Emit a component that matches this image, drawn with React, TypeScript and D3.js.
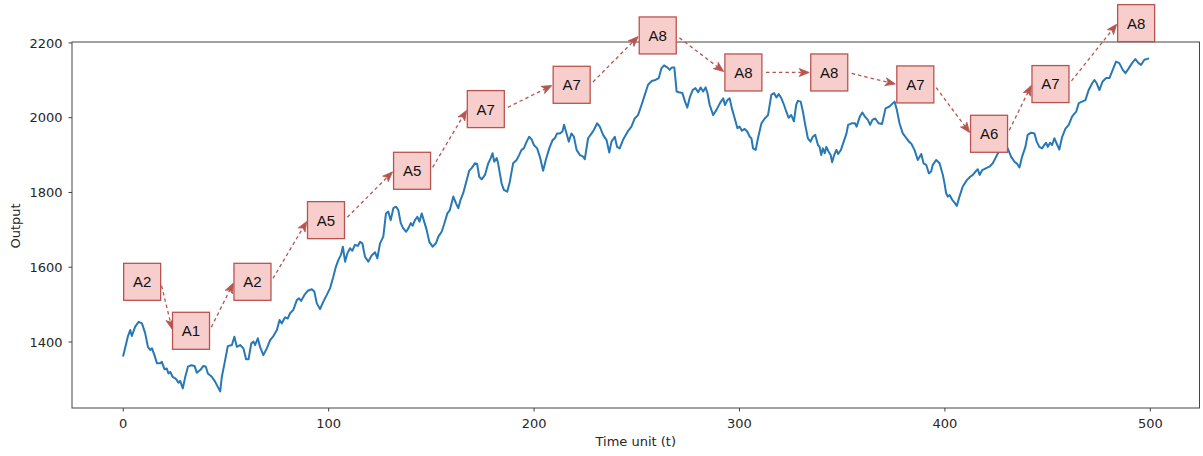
import React from 'react';
import * as d3 from 'd3';

// Time index of each traced sample
const times: number[] = [
  0, 2.3, 3.4, 4.2, 5.8, 7.5, 9.1, 10.7, 12, 13.1, 14, 15.2, 16.4, 18, 18.8, 20.1, 21.2, 22, 22.9, 24,
  25.3, 26.1, 26.9, 27.7, 29, 30.2, 31.5, 33.1, 34.7, 35.8, 37.5, 39, 40.2, 41.2, 43.1, 44.7, 47.2, 48, 49.3, 50.9,
  52.9, 54.1, 55.3, 56.9, 58.5, 59.8, 61, 62.3, 63.4, 64.2, 65.5, 66.6, 68.2, 69.9, 71.5, 73.1, 74.8, 76.1, 77.2, 78.8,
  80.1, 81.2, 82.8, 84.5, 85.6, 86.6, 88.2, 89.8, 91.8, 93, 94.2, 95.8, 97.4, 99.1, 100.7, 102.3, 103.5, 104.7, 106, 106.9,
  108, 109.1, 110.4, 111.5, 112.8, 114.2, 115.3, 116.4, 117.7, 119.3, 121, 122.6, 123.7, 125, 126.6, 127.9, 129, 130.2, 131.5, 132.8,
  133.9, 135.1, 136.3, 137.7, 138.8, 140, 140.9, 142, 143.2, 144.2, 145.3, 146.5, 147.7, 149, 150.6, 152.2, 153.4, 155, 156.1, 157.8,
  159, 160.7, 162, 163.1, 164.2, 165.5, 167.2, 168.4, 169.6, 171.2, 172.3, 173.3, 174.5, 176.1, 177.7, 178.9, 179.8, 180.6, 181.8, 182.5,
  184.2, 185.3, 186.9, 188.2, 189.8, 191.5, 192.7, 193.9, 195, 196.4, 197.6, 198.8, 199.9, 201.5, 202.8, 204.4, 205.7, 207.4, 209, 210.1,
  211.2, 212.6, 213.8, 214.6, 215.8, 216.9, 218.2, 219.4, 220.7, 222.3, 223.9, 224.7, 226.3, 228, 229.1, 230.7, 232, 233.6, 235.3, 236.6,
  237.7, 239.3, 240.4, 241.7, 243.4, 245.8, 247.4, 249, 250.6, 252.3, 253.9, 255.5, 257.2, 259.1, 260.7, 262, 263.3, 265, 266, 267,
  268.3, 269.4, 270.5, 272.2, 273.5, 274.6, 275.9, 277.2, 278.6, 279.9, 281.1, 282.3, 283.5, 284.4, 285.5, 287.2, 288.8, 290.5, 292.1, 292.9,
  294.1, 295.2, 296.3, 297.7, 299, 300.1, 301.2, 302.5, 303.8, 305, 305.8, 306.6, 307.9, 309, 310.7, 312.3, 313.9, 315.5, 316.8, 318,
  319.1, 320.4, 321.7, 322.8, 323.9, 325.2, 326.5, 327.6, 328.4, 329.8, 330.9, 332, 333.3, 334.6, 335.7, 336.9, 338.2, 339, 339.8, 340.6,
  341.5, 342.3, 343.4, 344.4, 345.1, 346.1, 347.2, 348, 349.4, 350.5, 352.1, 352.9, 354.6, 356.2, 357, 358.6, 359.8, 361.1, 362.5, 363.6,
  364.7, 366.1, 367.7, 369.4, 371.1, 373, 374.7, 375.5, 376.6, 377.9, 379.5, 380.8, 382.5, 383.6, 385.2, 386.8, 388.5, 389.6, 390.9, 392.2,
  393.3, 394.1, 395.8, 397.4, 399, 399.8, 400.6, 401.4, 402.3, 403.6, 404.7, 405.8, 407.1, 408.7, 410.7, 412.3, 413.6, 414.9, 416, 416.9,
  418.2, 420.1, 421.7, 423.3, 424.6, 425.8, 426.9, 429, 430.6, 432.2, 433.9, 435, 436.3, 437.6, 439.2, 440.3, 442, 443.6, 444.7, 446,
  447.3, 448.4, 449.3, 450.1, 451.2, 452.2, 453.3, 454.4, 455.7, 457.1, 458.7, 460.3, 461.9, 463.9, 465.2, 466.8, 468.4, 470, 471.7, 472.8,
  473.9, 475.2, 476.8, 478.5, 480.1, 481.7, 483.3, 484.9, 486.6, 487.9, 489.5, 491.1, 492.7, 494.3, 495.5, 497.1, 499,
];

// Output level at each sample
const output: number[] = [
  1363, 1416, 1432, 1416, 1441, 1454, 1450, 1423, 1387, 1379, 1383, 1365, 1343, 1343, 1347, 1327, 1329, 1316, 1320, 1307,
  1303, 1298, 1291, 1296, 1276, 1307, 1334, 1338, 1336, 1318, 1325, 1336, 1334, 1316, 1307, 1294, 1268, 1307, 1343, 1389,
  1392, 1414, 1387, 1392, 1383, 1354, 1354, 1396, 1401, 1392, 1410, 1387, 1365, 1383, 1405, 1416, 1432, 1459, 1450, 1466,
  1463, 1477, 1486, 1512, 1517, 1510, 1526, 1537, 1541, 1535, 1504, 1488, 1508, 1526, 1544, 1575, 1601, 1619, 1633, 1655,
  1615, 1637, 1651, 1644, 1660, 1657, 1668, 1664, 1628, 1615, 1632, 1640, 1624, 1664, 1682, 1744, 1749, 1726, 1758, 1762,
  1753, 1718, 1704, 1695, 1704, 1718, 1711, 1726, 1735, 1722, 1744, 1722, 1700, 1668, 1655, 1664, 1682, 1695, 1713, 1744,
  1753, 1789, 1771, 1758, 1780, 1798, 1833, 1858, 1865, 1878, 1876, 1842, 1835, 1847, 1878, 1892, 1905, 1882, 1892, 1878,
  1824, 1807, 1802, 1829, 1878, 1887, 1900, 1914, 1918, 1936, 1949, 1942, 1927, 1918, 1896, 1858, 1887, 1918, 1940, 1945,
  1958, 1958, 1963, 1981, 1958, 1936, 1958, 1949, 1914, 1900, 1896, 1889, 1945, 1958, 1967, 1985, 1976, 1954, 1940, 1907,
  1936, 1949, 1922, 1918, 1942, 1965, 1976, 1998, 2007, 2034, 2061, 2088, 2098, 2101, 2106, 2132, 2140, 2134, 2128, 2134,
  2134, 2070, 2068, 2066, 2043, 2027, 2056, 2074, 2079, 2068, 2081, 2070, 2081, 2066, 2034, 2007, 2021, 2039, 2052, 2034,
  2047, 2052, 2025, 1998, 1972, 1976, 1965, 1970, 1963, 1949, 1945, 1918, 1914, 1945, 1985, 1998, 2007, 2061, 2066, 2054,
  2063, 2052, 2034, 2016, 2000, 2007, 1990, 2034, 2045, 2043, 2016, 1981, 1945, 1936, 1949, 1954, 1927, 1922, 1900, 1918,
  1905, 1922, 1909, 1900, 1881, 1900, 1914, 1903, 1914, 1932, 1958, 1981, 1985, 1985, 1976, 2003, 2014, 2003, 1994, 1981,
  1994, 1998, 1985, 1983, 2025, 2030, 2039, 2043, 2021, 1985, 1958, 1949, 1936, 1931, 1914, 1887, 1903, 1878, 1874, 1851,
  1856, 1874, 1887, 1878, 1847, 1825, 1798, 1789, 1793, 1780, 1773, 1764, 1789, 1816, 1833, 1842, 1847, 1856, 1862, 1847,
  1860, 1865, 1869, 1878, 1892, 1905, 1918, 1914, 1918, 1896, 1882, 1878, 1867, 1896, 1922, 1954, 1960, 1958, 1936, 1922,
  1918, 1927, 1933, 1922, 1933, 1927, 1945, 1931, 1915, 1949, 1971, 1981, 2003, 2016, 2039, 2043, 2047, 2074, 2092, 2101,
  2092, 2074, 2097, 2106, 2106, 2128, 2150, 2146, 2128, 2119, 2132, 2146, 2157, 2146, 2141, 2155, 2158,
];

// State annotations: name, time and level of each box
const stateNames: string[] = ['A2', 'A1', 'A2', 'A5', 'A5', 'A7', 'A7', 'A8', 'A8', 'A8', 'A7', 'A6', 'A7', 'A8'];
const stateTimes: number[] = [9.2, 33, 62.9, 98.7, 140.6, 176.5, 218.3, 260.2, 301.9, 343.7, 385.6, 421.5, 451.4, 493.1];
const stateLevels: number[] = [1561, 1430, 1561, 1726, 1858, 2023, 2088, 2220, 2121, 2121, 2089, 1957, 2090, 2253];

const xTicks: number[] = [0, 100, 200, 300, 400, 500];
const yTicks: number[] = [1400, 1600, 1800, 2000, 2200];

const W = 1203;
const H = 456;
const plot = { left: 72, right: 1199.5, top: 42, bottom: 408 };
const BOX = 37;
const LINE_BLUE = '#2878b5';
const BOX_FILL = '#f8cecc';
const BOX_STROKE = '#b85450';
const AXIS = '#444';
const TEXT = '#262626';
const TICK_FONT = '"DejaVu Sans", sans-serif';
const BOX_FONT = '"Liberation Sans", Arial, sans-serif';

function padded(ext: [number, number], frac: number): [number, number] {
  const span = ext[1] - ext[0];
  return [ext[0] - span * frac, ext[1] + span * frac];
}

export default function App() {
  const x = d3
    .scaleLinear()
    .domain(padded(d3.extent(times) as [number, number], 0.05))
    .range([plot.left, plot.right]);
  const y = d3
    .scaleLinear()
    .domain(padded(d3.extent(output) as [number, number], 0.05))
    .range([plot.bottom, plot.top]);

  const series = times.map((t, i) => [t, output[i]] as [number, number]);
  const linePath = d3
    .line<[number, number]>()
    .x((d) => x(d[0]))
    .y((d) => y(d[1]))(series);

  // Dashed transition arrows between consecutive state boxes
  const arrows = stateNames.slice(1).map((_, i) => {
    const x0 = x(stateTimes[i]) + BOX / 2;
    const y0 = y(stateLevels[i]);
    const x1 = x(stateTimes[i + 1]) - BOX / 2;
    const y1 = y(stateLevels[i + 1]);
    const dx = x1 - x0;
    const dy = y1 - y0;
    const len = Math.hypot(dx, dy);
    const ux = dx / len;
    const uy = dy / len;
    const sx = x0 + ux * 4;
    const sy = y0 + uy * 4;
    const tx = x1 - ux * 1.5;
    const ty = y1 - uy * 1.5;
    const headLen = 10;
    const headHalf = 4;
    const notch = 2.5;
    const bx = tx - ux * headLen;
    const by = ty - uy * headLen;
    const px = -uy;
    const py = ux;
    const head = [
      [tx, ty],
      [bx + px * headHalf, by + py * headHalf],
      [tx - ux * (headLen - notch), ty - uy * (headLen - notch)],
      [bx - px * headHalf, by - py * headHalf],
    ]
      .map((p) => p.join(','))
      .join(' ');
    return {
      key: i,
      line: { x1: sx, y1: sy, x2: tx - ux * (headLen - notch), y2: ty - uy * (headLen - notch) },
      head,
    };
  });

  return (
    <svg
      width={W}
      height={H}
      style={{ position: 'absolute', left: 0, top: 0, background: '#fff' }}
      xmlns="http://www.w3.org/2000/svg"
    >
      <rect x={0} y={0} width={W} height={H} fill="#fff" />

      {/* series */}
      <path d={linePath ?? ''} fill="none" stroke={LINE_BLUE} strokeWidth={2} strokeLinejoin="round" strokeLinecap="round" />

      {/* frame */}
      <rect
        x={plot.left}
        y={plot.top}
        width={plot.right - plot.left}
        height={plot.bottom - plot.top}
        fill="none"
        stroke={AXIS}
        strokeWidth={1}
      />

      {/* x axis */}
      {xTicks.map((t) => (
        <g key={`x${t}`}>
          <line x1={x(t)} x2={x(t)} y1={plot.bottom} y2={plot.bottom + 3.5} stroke={AXIS} strokeWidth={1} />
          <text x={x(t)} y={428} textAnchor="middle" fontFamily={TICK_FONT} fontSize={13} fill={TEXT}>
            {t}
          </text>
        </g>
      ))}
      <text
        x={(plot.left + plot.right) / 2}
        y={445.5}
        textAnchor="middle"
        fontFamily={TICK_FONT}
        fontSize={13}
        fill={TEXT}
      >
        Time unit (t)
      </text>

      {/* y axis */}
      {yTicks.map((v) => (
        <g key={`y${v}`}>
          <line x1={plot.left - 3.5} x2={plot.left} y1={y(v)} y2={y(v)} stroke={AXIS} strokeWidth={1} />
          <text
            x={62.5}
            y={y(v)}
            dy="0.36em"
            textAnchor="end"
            fontFamily={TICK_FONT}
            fontSize={13}
            fill={TEXT}
          >
            {v}
          </text>
        </g>
      ))}
      <text
        transform={`translate(20,226) rotate(-90)`}
        textAnchor="middle"
        fontFamily={TICK_FONT}
        fontSize={13}
        fill={TEXT}
      >
        Output
      </text>

      {/* transitions */}
      {arrows.map((a) => (
        <g key={`a${a.key}`}>
          <line
            {...a.line}
            stroke={BOX_STROKE}
            strokeWidth={1.3}
            strokeDasharray="3.5,3"
          />
          <polygon points={a.head} fill={BOX_STROKE} stroke={BOX_STROKE} strokeWidth={0.8} strokeLinejoin="miter" />
        </g>
      ))}

      {/* state boxes */}
      {stateNames.map((name, i) => {
        const cx = x(stateTimes[i]);
        const cy = y(stateLevels[i]);
        return (
          <g key={`s${i}`}>
            <rect
              x={cx - BOX / 2}
              y={cy - BOX / 2}
              width={BOX}
              height={BOX}
              fill={BOX_FILL}
              stroke={BOX_STROKE}
              strokeWidth={1.3}
            />
            <text
              x={cx}
              y={cy}
              dy="0.36em"
              textAnchor="middle"
              fontFamily={BOX_FONT}
              fontSize={15}
              fill="#111"
            >
              {name}
            </text>
          </g>
        );
      })}
    </svg>
  );
}
